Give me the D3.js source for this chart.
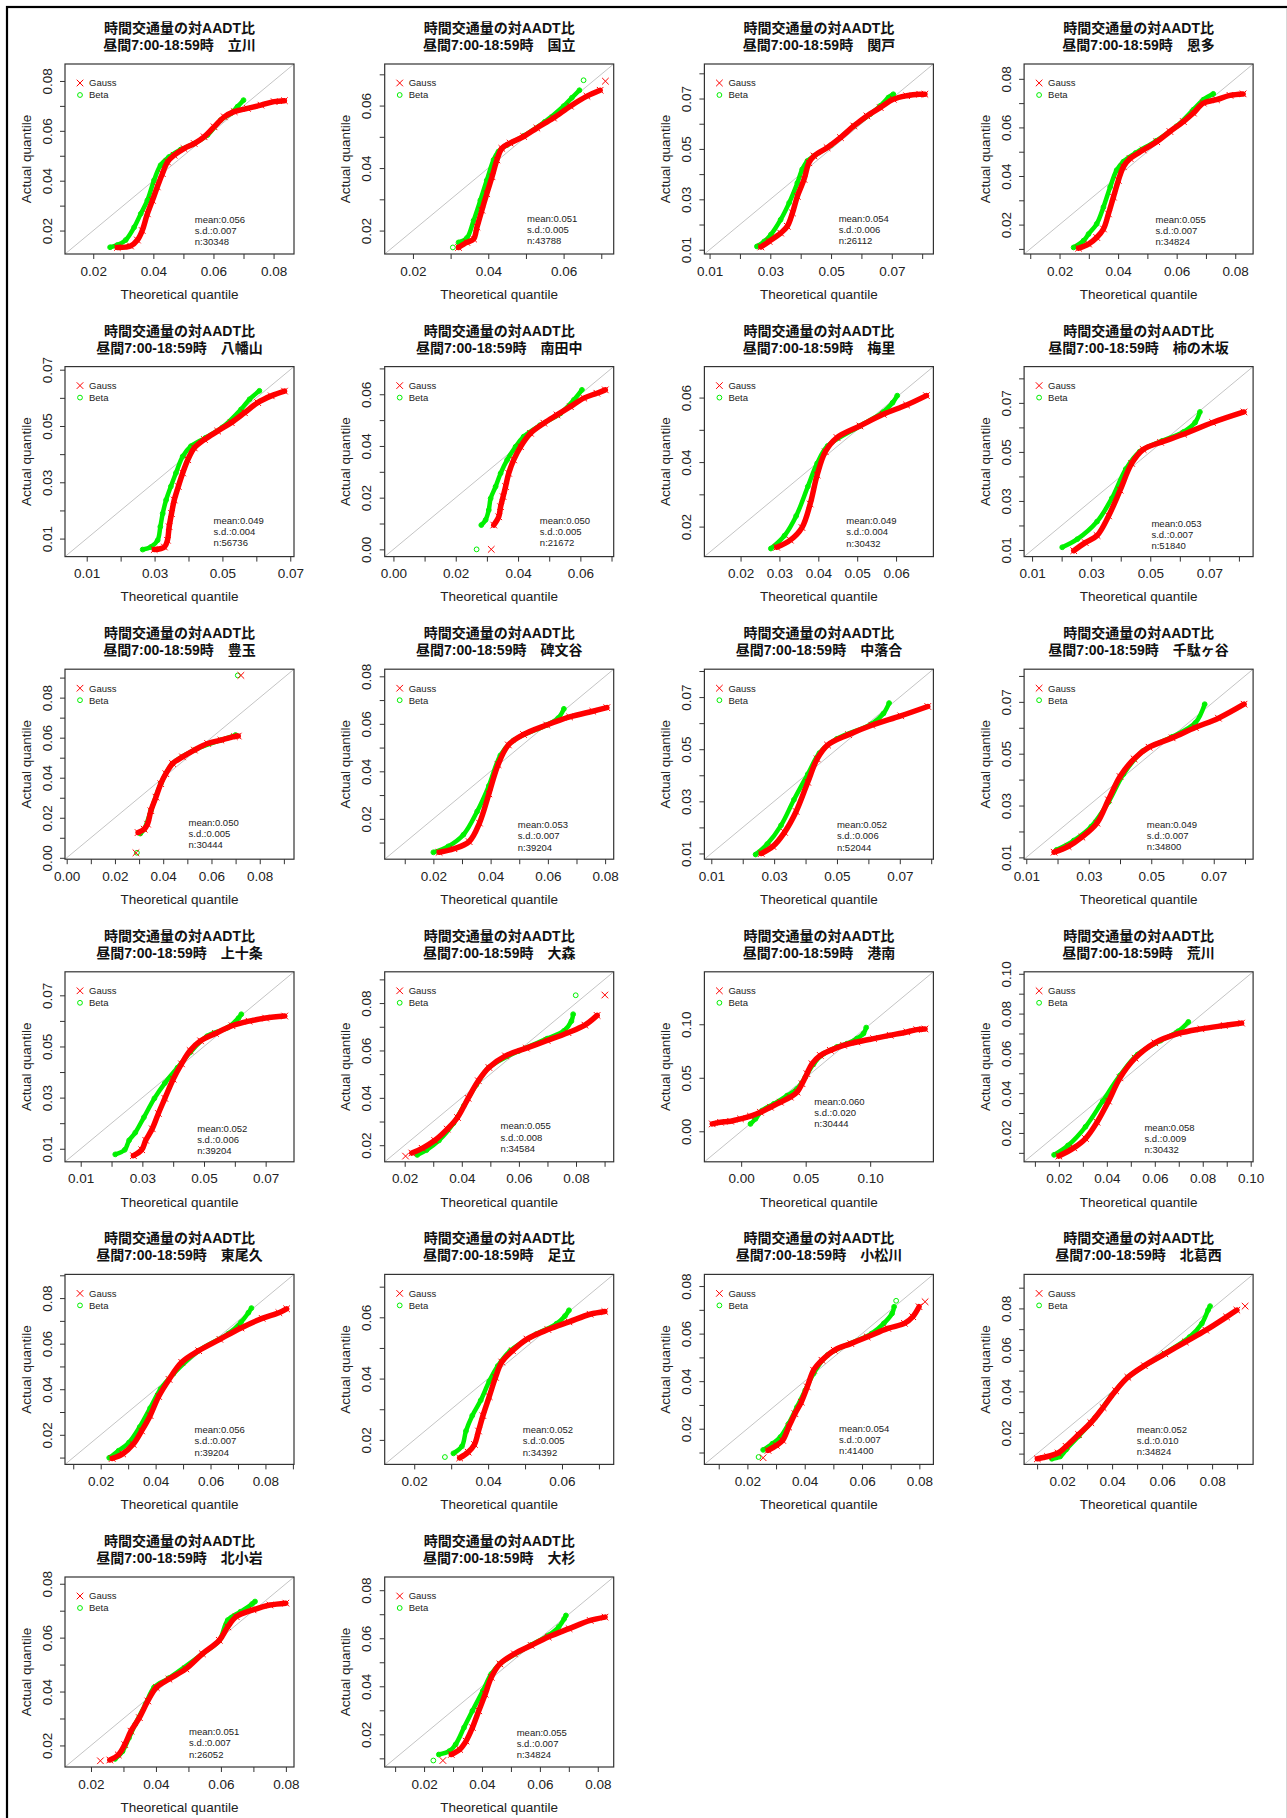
<!DOCTYPE html>
<html>
<head>
<meta charset="utf-8">
<script src="https://cdn.jsdelivr.net/npm/d3@7"></script>
<style>
  body { margin: 0; background: #fff; }
  svg { display: block; }
</style>
</head>
<body>
<svg id="chart" width="1287" height="1818"></svg>
<script>
// ---- data -------------------------------------------------------------
const titleLine1 = "時間交通量の対AADT比";
const titleLine2 = "昼間7:00-18:59時";
const stations = ["立川","国立","関戸","恩多","八幡山","南田中","梅里","柿の木坂","豊玉","碑文谷","中落合","千駄ヶ谷",
                  "上十条","大森","港南","荒川","東尾久","足立","小松川","北葛西","北小岩","大杉"];
const means  = [0.056,0.051,0.054,0.055,0.049,0.050,0.049,0.053,0.050,0.053,0.052,0.049,
                0.052,0.055,0.060,0.058,0.056,0.052,0.054,0.052,0.051,0.055];
const sds    = [0.007,0.005,0.006,0.007,0.004,0.005,0.004,0.007,0.005,0.007,0.006,0.007,
                0.006,0.008,0.020,0.009,0.007,0.005,0.007,0.010,0.007,0.007];
const counts = [30348,43788,26112,34824,56736,21672,30432,51840,30444,39204,52044,34800,
                39204,34584,30444,30432,39204,34392,41400,34824,26052,34824];

// common axis limits (x and y share them, so y = x runs corner to corner)
const limits = [[0.0106,0.0868],[0.0125,0.0733],[0.0083,0.0837],[0.0079,0.0861],[0.0036,0.0711],[-0.0028,0.0707],
                [0.0107,0.0696],[0.0073,0.0848],[-0.0007,0.0942],[0.003,0.083],[0.0078,0.0807],[0.0093,0.0826],
                [0.0049,0.0792],[0.013,0.0932],[-0.0285,0.149],[0.0055,0.101],[0.007,0.0904],[0.012,0.074],
                [0.005,0.0849],[0.0048,0.0964],[0.012,0.0825],[0.0064,0.0855]];
const tickSteps = [0.01,0.01,0.01,0.01,0.01,0.01,0.01,0.01,0.01,0.01,0.01,0.01,
                   0.01,0.01,0.05,0.01,0.01,0.01,0.01,0.01,0.01,0.01];
const E4 = [0.02,0.04,0.06,0.08], O4 = [0.01,0.03,0.05,0.07], E3 = [0.02,0.04,0.06];
const xTickLabels = [E4,E3,O4,E4,O4,[0,0.02,0.04,0.06],[0.02,0.03,0.04,0.05,0.06],O4,[0,0.02,0.04,0.06,0.08],E4,O4,O4,
                     O4,E4,[0,0.05,0.10],[0.02,0.04,0.06,0.08,0.10],E4,E3,E4,E4,E4,E4];
const yTickLabels = [E4,E3,O4,E4,O4,[0,0.02,0.04,0.06],E3,O4,[0,0.02,0.04,0.06,0.08],E4,O4,O4,
                     O4,E4,[0,0.05,0.10],[0.02,0.04,0.06,0.08,0.10],E4,E3,E4,E4,E4,E4];

// quantile pairs [theoretical, actual] along each dense run of points
const gaussQ = [
  [[0.0280,0.0132],[0.0324,0.0138],[0.0347,0.0162],[0.0363,0.0200],[0.0380,0.0267],[0.0397,0.0321],[0.0413,0.0375],[0.0430,0.0428],[0.0447,0.0475],[0.0469,0.0502],[0.0502,0.0529],[0.0536,0.0549],[0.0569,0.0576],[0.0602,0.0616],[0.0636,0.0656],[0.0669,0.0677],[0.0713,0.0690],[0.0758,0.0703],[0.0802,0.0717],[0.0836,0.0721]],
  [[0.0321,0.0146],[0.0343,0.0162],[0.0361,0.0173],[0.0370,0.0211],[0.0383,0.0265],[0.0396,0.0318],[0.0410,0.0372],[0.0423,0.0426],[0.0436,0.0463],[0.0458,0.0480],[0.0494,0.0501],[0.0529,0.0528],[0.0573,0.0560],[0.0618,0.0598],[0.0662,0.0630],[0.0697,0.0649]],
  [[0.0269,0.0111],[0.0296,0.0133],[0.0334,0.0166],[0.0356,0.0193],[0.0373,0.0246],[0.0389,0.0312],[0.0411,0.0379],[0.0427,0.0445],[0.0444,0.0472],[0.0487,0.0505],[0.0531,0.0545],[0.0575,0.0591],[0.0618,0.0631],[0.0662,0.0664],[0.0705,0.0697],[0.0749,0.0711],[0.0792,0.0717],[0.0809,0.0717]],
  [[0.0265,0.0103],[0.0299,0.0120],[0.0327,0.0147],[0.0350,0.0182],[0.0367,0.0244],[0.0384,0.0313],[0.0401,0.0382],[0.0418,0.0438],[0.0441,0.0472],[0.0486,0.0507],[0.0532,0.0541],[0.0577,0.0583],[0.0623,0.0624],[0.0657,0.0659],[0.0691,0.0700],[0.0736,0.0714],[0.0782,0.0732],[0.0827,0.0738]],
  [[0.0299,0.0061],[0.0329,0.0070],[0.0338,0.0094],[0.0343,0.0142],[0.0350,0.0189],[0.0358,0.0237],[0.0370,0.0285],[0.0383,0.0333],[0.0398,0.0380],[0.0417,0.0422],[0.0447,0.0452],[0.0486,0.0482],[0.0526,0.0512],[0.0565,0.0547],[0.0604,0.0583],[0.0644,0.0607],[0.0683,0.0624]],
  [[0.0322,0.0094],[0.0338,0.0126],[0.0344,0.0165],[0.0352,0.0204],[0.0360,0.0243],[0.0370,0.0294],[0.0386,0.0346],[0.0408,0.0397],[0.0440,0.0449],[0.0483,0.0488],[0.0525,0.0520],[0.0568,0.0552],[0.0611,0.0585],[0.0653,0.0604],[0.0680,0.0617]],
  [[0.0293,0.0136],[0.0328,0.0158],[0.0358,0.0197],[0.0379,0.0270],[0.0397,0.0360],[0.0418,0.0432],[0.0448,0.0476],[0.0507,0.0512],[0.0567,0.0548],[0.0627,0.0577],[0.0678,0.0606]],
  [[0.0241,0.0097],[0.0280,0.0130],[0.0320,0.0159],[0.0359,0.0239],[0.0398,0.0344],[0.0437,0.0453],[0.0476,0.0510],[0.0535,0.0539],[0.0613,0.0572],[0.0711,0.0620],[0.0817,0.0663]],
  [[0.0296,0.0126],[0.0321,0.0143],[0.0335,0.0168],[0.0349,0.0235],[0.0370,0.0303],[0.0390,0.0370],[0.0411,0.0420],[0.0439,0.0471],[0.0480,0.0504],[0.0529,0.0538],[0.0584,0.0571],[0.0639,0.0588],[0.0695,0.0605],[0.0711,0.0608]],
  [[0.0220,0.0059],[0.0272,0.0074],[0.0325,0.0104],[0.0361,0.0182],[0.0394,0.0305],[0.0426,0.0428],[0.0462,0.0511],[0.0515,0.0555],[0.0596,0.0595],[0.0676,0.0629],[0.0757,0.0653],[0.0806,0.0668]],
  [[0.0259,0.0100],[0.0296,0.0127],[0.0333,0.0181],[0.0370,0.0261],[0.0407,0.0373],[0.0437,0.0463],[0.0470,0.0516],[0.0537,0.0556],[0.0611,0.0592],[0.0703,0.0628],[0.0789,0.0664]],
  [[0.0189,0.0120],[0.0234,0.0142],[0.0278,0.0178],[0.0326,0.0232],[0.0363,0.0322],[0.0400,0.0412],[0.0445,0.0480],[0.0493,0.0525],[0.0567,0.0561],[0.0641,0.0601],[0.0715,0.0637],[0.0797,0.0691]],
  [[0.0271,0.0073],[0.0298,0.0096],[0.0311,0.0133],[0.0332,0.0178],[0.0352,0.0238],[0.0373,0.0297],[0.0400,0.0372],[0.0427,0.0432],[0.0455,0.0484],[0.0489,0.0522],[0.0537,0.0551],[0.0591,0.0581],[0.0646,0.0599],[0.0700,0.0611],[0.0762,0.0619]],
  [[0.0225,0.0167],[0.0261,0.0187],[0.0305,0.0220],[0.0349,0.0268],[0.0385,0.0317],[0.0422,0.0398],[0.0458,0.0472],[0.0495,0.0528],[0.0553,0.0577],[0.0626,0.0610],[0.0699,0.0642],[0.0772,0.0675],[0.0831,0.0707],[0.0874,0.0748]],
  [[-0.0224,0.0069],[-0.0160,0.0084],[-0.0082,0.0094],[-0.0005,0.0116],[0.0072,0.0141],[0.0149,0.0178],[0.0227,0.0225],[0.0304,0.0272],[0.0381,0.0319],[0.0433,0.0366],[0.0472,0.0444],[0.0510,0.0538],[0.0549,0.0631],[0.0613,0.0709],[0.0691,0.0756],[0.0794,0.0803],[0.0897,0.0834],[0.1026,0.0866],[0.1155,0.0897],[0.1284,0.0928],[0.1361,0.0950],[0.1425,0.0956]],
  [[0.0200,0.0084],[0.0262,0.0125],[0.0311,0.0172],[0.0359,0.0254],[0.0407,0.0360],[0.0455,0.0477],[0.0518,0.0576],[0.0600,0.0653],[0.0697,0.0699],[0.0793,0.0723],[0.0890,0.0740],[0.0962,0.0752]],
  [[0.0242,0.0096],[0.0280,0.0116],[0.0318,0.0158],[0.0349,0.0217],[0.0380,0.0284],[0.0411,0.0368],[0.0449,0.0443],[0.0495,0.0518],[0.0557,0.0569],[0.0634,0.0619],[0.0711,0.0669],[0.0788,0.0711],[0.0849,0.0736],[0.0877,0.0753]],
  [[0.0323,0.0141],[0.0346,0.0160],[0.0363,0.0185],[0.0374,0.0229],[0.0386,0.0279],[0.0403,0.0341],[0.0420,0.0404],[0.0437,0.0454],[0.0466,0.0491],[0.0505,0.0529],[0.0562,0.0560],[0.0619,0.0585],[0.0676,0.0610],[0.0716,0.0619]],
  [[0.0272,0.0109],[0.0301,0.0130],[0.0323,0.0151],[0.0344,0.0207],[0.0366,0.0263],[0.0388,0.0312],[0.0409,0.0376],[0.0431,0.0446],[0.0460,0.0488],[0.0503,0.0530],[0.0561,0.0558],[0.0618,0.0586],[0.0690,0.0622],[0.0748,0.0643],[0.0777,0.0671],[0.0799,0.0713]],
  [[0.0101,0.0075],[0.0142,0.0086],[0.0184,0.0103],[0.0216,0.0135],[0.0266,0.0192],[0.0315,0.0249],[0.0364,0.0322],[0.0414,0.0403],[0.0463,0.0468],[0.0529,0.0524],[0.0611,0.0581],[0.0693,0.0638],[0.0775,0.0695],[0.0858,0.0759],[0.0899,0.0792]],
  [[0.0258,0.0146],[0.0284,0.0165],[0.0304,0.0203],[0.0323,0.0253],[0.0349,0.0303],[0.0375,0.0365],[0.0401,0.0415],[0.0440,0.0446],[0.0492,0.0484],[0.0543,0.0540],[0.0595,0.0590],[0.0621,0.0640],[0.0647,0.0678],[0.0699,0.0703],[0.0751,0.0721],[0.0800,0.0728]],
  [[0.0294,0.0116],[0.0323,0.0137],[0.0345,0.0172],[0.0367,0.0228],[0.0389,0.0298],[0.0411,0.0367],[0.0432,0.0437],[0.0462,0.0493],[0.0512,0.0535],[0.0570,0.0570],[0.0629,0.0605],[0.0701,0.0640],[0.0774,0.0674],[0.0825,0.0688]]
];
const betaQ = [
  [[0.0256,0.0133],[0.0280,0.0142],[0.0308,0.0162],[0.0336,0.0213],[0.0358,0.0267],[0.0380,0.0321],[0.0402,0.0401],[0.0424,0.0462],[0.0452,0.0495],[0.0491,0.0525],[0.0536,0.0549],[0.0580,0.0583],[0.0624,0.0643],[0.0658,0.0670],[0.0680,0.0697],[0.0700,0.0723]],
  [[0.0321,0.0162],[0.0343,0.0176],[0.0361,0.0232],[0.0379,0.0297],[0.0396,0.0361],[0.0414,0.0426],[0.0427,0.0453],[0.0450,0.0474],[0.0494,0.0503],[0.0550,0.0548],[0.0600,0.0598],[0.0622,0.0625],[0.0642,0.0649]],
  [[0.0256,0.0113],[0.0280,0.0133],[0.0302,0.0160],[0.0334,0.0219],[0.0362,0.0286],[0.0389,0.0365],[0.0405,0.0419],[0.0422,0.0452],[0.0444,0.0472],[0.0500,0.0515],[0.0575,0.0591],[0.0629,0.0638],[0.0662,0.0671],[0.0689,0.0704],[0.0705,0.0717]],
  [[0.0248,0.0106],[0.0282,0.0134],[0.0299,0.0161],[0.0327,0.0203],[0.0350,0.0272],[0.0373,0.0355],[0.0395,0.0424],[0.0418,0.0459],[0.0460,0.0495],[0.0530,0.0545],[0.0600,0.0605],[0.0657,0.0673],[0.0691,0.0714],[0.0725,0.0738]],
  [[0.0265,0.0061],[0.0289,0.0070],[0.0309,0.0094],[0.0317,0.0142],[0.0324,0.0189],[0.0334,0.0237],[0.0348,0.0285],[0.0363,0.0333],[0.0383,0.0392],[0.0407,0.0428],[0.0450,0.0458],[0.0500,0.0495],[0.0555,0.0559],[0.0580,0.0595],[0.0609,0.0625]],
  [[0.0282,0.0094],[0.0296,0.0114],[0.0306,0.0152],[0.0312,0.0197],[0.0328,0.0243],[0.0344,0.0294],[0.0365,0.0346],[0.0392,0.0397],[0.0418,0.0436],[0.0470,0.0480],[0.0536,0.0526],[0.0579,0.0578],[0.0605,0.0617]],
  [[0.0278,0.0132],[0.0313,0.0172],[0.0343,0.0233],[0.0373,0.0324],[0.0397,0.0396],[0.0424,0.0450],[0.0507,0.0512],[0.0567,0.0555],[0.0591,0.0584],[0.0603,0.0606]],
  [[0.0202,0.0111],[0.0253,0.0144],[0.0320,0.0216],[0.0370,0.0311],[0.0417,0.0430],[0.0464,0.0501],[0.0540,0.0545],[0.0613,0.0582],[0.0652,0.0620],[0.0668,0.0663]],
  [[0.0305,0.0121],[0.0321,0.0143],[0.0349,0.0235],[0.0390,0.0370],[0.0439,0.0471],[0.0529,0.0538],[0.0639,0.0588],[0.0700,0.0613]],
  [[0.0200,0.0059],[0.0252,0.0084],[0.0305,0.0133],[0.0353,0.0231],[0.0394,0.0339],[0.0434,0.0467],[0.0480,0.0530],[0.0596,0.0595],[0.0636,0.0624],[0.0656,0.0663]],
  [[0.0241,0.0096],[0.0278,0.0136],[0.0322,0.0208],[0.0363,0.0306],[0.0407,0.0404],[0.0444,0.0485],[0.0500,0.0540],[0.0611,0.0597],[0.0648,0.0637],[0.0666,0.0677]],
  [[0.0197,0.0129],[0.0252,0.0165],[0.0308,0.0219],[0.0363,0.0313],[0.0411,0.0421],[0.0474,0.0511],[0.0567,0.0565],[0.0641,0.0619],[0.0671,0.0691]],
  [[0.0212,0.0078],[0.0243,0.0096],[0.0257,0.0133],[0.0277,0.0163],[0.0305,0.0223],[0.0339,0.0297],[0.0373,0.0357],[0.0414,0.0417],[0.0455,0.0477],[0.0510,0.0540],[0.0577,0.0574],[0.0612,0.0611],[0.0621,0.0626]],
  [[0.0244,0.0159],[0.0276,0.0179],[0.0320,0.0220],[0.0371,0.0293],[0.0407,0.0366],[0.0451,0.0455],[0.0495,0.0528],[0.0600,0.0598],[0.0699,0.0650],[0.0758,0.0683],[0.0784,0.0724],[0.0790,0.0753]],
  [[0.0072,0.0069],[0.0111,0.0116],[0.0162,0.0194],[0.0253,0.0256],[0.0356,0.0334],[0.0433,0.0397],[0.0497,0.0506],[0.0562,0.0631],[0.0639,0.0725],[0.0742,0.0788],[0.0820,0.0819],[0.0897,0.0866],[0.0948,0.0913],[0.0969,0.0969]],
  [[0.0180,0.0090],[0.0238,0.0137],[0.0311,0.0231],[0.0383,0.0360],[0.0455,0.0489],[0.0528,0.0594],[0.0624,0.0664],[0.0697,0.0711],[0.0740,0.0758]],
  [[0.0231,0.0099],[0.0265,0.0130],[0.0303,0.0166],[0.0342,0.0234],[0.0380,0.0317],[0.0418,0.0401],[0.0465,0.0468],[0.0557,0.0569],[0.0665,0.0644],[0.0711,0.0694],[0.0738,0.0736],[0.0749,0.0756]],
  [[0.0306,0.0156],[0.0329,0.0179],[0.0340,0.0229],[0.0357,0.0279],[0.0380,0.0329],[0.0403,0.0391],[0.0426,0.0441],[0.0460,0.0491],[0.0530,0.0545],[0.0585,0.0579],[0.0608,0.0604],[0.0619,0.0623]],
  [[0.0255,0.0111],[0.0287,0.0137],[0.0315,0.0165],[0.0344,0.0221],[0.0373,0.0291],[0.0402,0.0362],[0.0431,0.0432],[0.0480,0.0510],[0.0633,0.0600],[0.0676,0.0643],[0.0705,0.0685],[0.0712,0.0713]],
  [[0.0159,0.0075],[0.0192,0.0086],[0.0216,0.0119],[0.0266,0.0184],[0.0332,0.0273],[0.0397,0.0378],[0.0463,0.0468],[0.0600,0.0575],[0.0710,0.0662],[0.0759,0.0727],[0.0784,0.0792],[0.0792,0.0811]],
  [[0.0274,0.0150],[0.0297,0.0178],[0.0317,0.0228],[0.0336,0.0278],[0.0368,0.0353],[0.0394,0.0415],[0.0440,0.0450],[0.0543,0.0540],[0.0595,0.0590],[0.0621,0.0665],[0.0660,0.0696],[0.0696,0.0725],[0.0705,0.0734]],
  [[0.0251,0.0116],[0.0287,0.0130],[0.0309,0.0158],[0.0338,0.0228],[0.0367,0.0298],[0.0403,0.0381],[0.0432,0.0451],[0.0462,0.0493],[0.0570,0.0572],[0.0629,0.0612],[0.0665,0.0647],[0.0684,0.0681],[0.0690,0.0695]]
];
// isolated quantile pairs lying apart from the dense runs
const gaussLone = [[],[[0.0711,0.0678]],[],[],[],[[0.0314,0.0000]],[],[],[[0.0287,0.0025],[0.0722,0.0911]],[],[],[],
                   [],[[0.0203,0.0154],[0.0901,0.0834]],[],[],[],[],[[0.0255,0.0078],[0.0820,0.0734]],[[0.0932,0.0811]],[[0.0229,0.0143]],[[0.0265,0.0091]]];
const betaLone  = [[],[[0.0306,0.0146],[0.0653,0.0681]],[],[],[],[[0.0267,0.0000]],[],[],[[0.0291,0.0025],[0.0709,0.0911]],[],[],[],
                   [],[[0.0799,0.0833]],[],[],[],[[0.0283,0.0144]],[[0.0239,0.0081],[0.0719,0.0738]],[],[],[[0.0232,0.0091]]];

// ---- layout -----------------------------------------------------------
const W = 229, H = 190;
const colX = c => 65 + c * 319.7;
const rowY = r => 64 + r * 302.6;
// where each summary block sits, in axis units (left edge, middle line)
const statAnchor = [[0.0538,0.0200],[0.0503,0.0203],[0.0525,0.0180],[0.0528,0.0175],[0.0474,0.0124],[0.0470,0.0068],
                    [0.0472,0.0183],[0.0504,0.0163],[0.0505,0.0121],[0.0495,0.0128],[0.0500,0.0167],[0.0486,0.0183],
                    [0.0478,0.0136],[0.0536,0.0233],[0.0567,0.0175],[0.0557,0.0172],[0.0542,0.0173],[0.0494,0.0196],
                    [0.0520,0.0154],[0.0499,0.0163],[0.0502,0.0209],[0.0520,0.0161]];

const RED = "#ff0000", GREEN = "#00f000";
const LATIN = "'Liberation Sans', Arial, 'Noto Sans CJK JP', sans-serif";
const fmt = d3.format(".2f");
const crossPath = d3.symbol().type(d3.symbolTimes || d3.symbolCross).size(30)();

const svg = d3.select("#chart");
const defs = svg.append("defs");

// page frame
svg.append("rect").attr("x", 7).attr("y", 7).attr("width", 1300).attr("height", 1840)
  .attr("fill", "none").attr("stroke", "#000").attr("stroke-width", 2.2);
svg.append("line").attr("x1", 1286.5).attr("x2", 1286.5).attr("y1", 8).attr("y2", 1818)
  .attr("stroke", "#d8d8d8").attr("stroke-width", 1);

stations.forEach((name, i) => {
  const c = i % 4, r = Math.floor(i / 4);
  const g = svg.append("g").attr("transform", `translate(${colX(c)},${rowY(r)})`);
  const [lo, hi] = limits[i];
  const x = d3.scaleLinear().domain([lo, hi]).range([0, W]);
  const y = d3.scaleLinear().domain([lo, hi]).range([H, 0]);

  const step = tickSteps[i];
  const k0 = Math.ceil(lo / step - 1e-9), k1 = Math.floor(hi / step + 1e-9);
  const ticks = d3.range(k0, k1 + 1).map(k => +(k * step).toFixed(4));
  const has = (arr, v) => arr.some(l => Math.abs(l - v) < 1e-9);

  // titles
  const title = g.append("g").attr("font-family", LATIN).attr("font-weight", "bold")
    .attr("font-size", 14).attr("fill", "#111").attr("text-anchor", "middle");
  title.append("text").attr("x", W / 2).attr("y", -36).attr("dy", "0.35em").text(titleLine1);
  title.append("text").attr("x", W / 2).attr("y", -19).attr("dy", "0.35em")
    .text(titleLine2 + "\u3000" + name);

  // axes
  const xa = g.append("g").attr("transform", `translate(0,${H})`)
    .call(d3.axisBottom(x).tickValues(ticks).tickSize(5).tickSizeOuter(0)
      .tickFormat(v => has(xTickLabels[i], v) ? fmt(v) : ""));
  const ya = g.append("g")
    .call(d3.axisLeft(y).tickValues(ticks).tickSize(5).tickSizeOuter(0)
      .tickFormat(v => has(yTickLabels[i], v) ? fmt(v) : ""));
  [xa, ya].forEach(a => {
    a.attr("font-family", LATIN).attr("font-size", 13.5);
    a.select(".domain").remove();
    a.selectAll(".tick line").attr("stroke", "#333");
    a.selectAll(".tick text").attr("fill", "#222");
  });
  xa.selectAll(".tick text").attr("y", 12).attr("dy", "0.71em");
  ya.selectAll(".tick text").attr("transform", "rotate(-90)").attr("x", 0).attr("y", -18)
    .attr("dy", "0.35em").attr("text-anchor", "middle");

  // axis titles
  g.append("text").attr("x", W / 2).attr("y", H + 40).attr("dy", "0.35em")
    .attr("text-anchor", "middle").attr("font-family", LATIN).attr("font-size", 13.5)
    .attr("fill", "#222").text("Theoretical quantile");
  g.append("text").attr("transform", `translate(-39,${H / 2}) rotate(-90)`).attr("dy", "0.35em")
    .attr("text-anchor", "middle").attr("font-family", LATIN).attr("font-size", 13.5)
    .attr("fill", "#222").text("Actual quantile");

  // plot region
  const clipId = "clip" + i;
  defs.append("clipPath").attr("id", clipId).append("rect").attr("width", W).attr("height", H);
  const plot = g.append("g").attr("clip-path", `url(#${clipId})`);

  plot.append("line").attr("x1", x(lo)).attr("y1", y(lo)).attr("x2", x(hi)).attr("y2", y(hi))
    .attr("stroke", "#c4c4c4").attr("stroke-width", 1);

  const line = d3.line().x(d => x(d[0])).y(d => y(d[1])).curve(d3.curveCatmullRom.alpha(0.5));

  // Beta first, Gauss drawn over it
  plot.append("path").datum(betaQ[i]).attr("d", line).attr("fill", "none")
    .attr("stroke", GREEN).attr("stroke-width", 4.5).attr("stroke-linecap", "round").attr("stroke-linejoin", "round");
  plot.selectAll(".bpt").data(betaQ[i].concat(betaLone[i])).join("circle")
    .attr("cx", d => x(d[0])).attr("cy", d => y(d[1])).attr("r", 2.4)
    .attr("fill", "none").attr("stroke", GREEN).attr("stroke-width", 1);

  plot.append("path").datum(gaussQ[i]).attr("d", line).attr("fill", "none")
    .attr("stroke", RED).attr("stroke-width", 5.5).attr("stroke-linecap", "round").attr("stroke-linejoin", "round");
  plot.selectAll(".gpt").data(gaussQ[i].concat(gaussLone[i])).join("path")
    .attr("transform", d => `translate(${x(d[0])},${y(d[1])})`).attr("d", crossPath)
    .attr("fill", "none").attr("stroke", RED).attr("stroke-width", 1);

  // frame
  g.append("rect").attr("width", W).attr("height", H).attr("fill", "none")
    .attr("stroke", "#333").attr("stroke-width", 1.2);

  // legend
  const lg = g.append("g").attr("font-family", LATIN).attr("font-size", 9.5).attr("fill", "#222");
  lg.append("path").attr("transform", "translate(15,19)").attr("d", crossPath)
    .attr("fill", "none").attr("stroke", RED).attr("stroke-width", 1);
  lg.append("text").attr("x", 24).attr("y", 19).attr("dy", "0.35em").text("Gauss");
  lg.append("circle").attr("cx", 15).attr("cy", 31).attr("r", 2.4)
    .attr("fill", "none").attr("stroke", GREEN).attr("stroke-width", 1);
  lg.append("text").attr("x", 24).attr("y", 31).attr("dy", "0.35em").text("Beta");

  // summary statistics
  const [sx, sy] = statAnchor[i];
  const st = g.append("g").attr("font-family", LATIN).attr("font-size", 9.5).attr("fill", "#222");
  [["mean:" + means[i].toFixed(3), -11.3], ["s.d.:" + sds[i].toFixed(3), 0], ["n:" + counts[i], 11.3]]
    .forEach(([t, dy]) => st.append("text").attr("x", x(sx)).attr("y", y(sy) + dy).attr("dy", "0.35em").text(t));
});
</script>
</body>
</html>
